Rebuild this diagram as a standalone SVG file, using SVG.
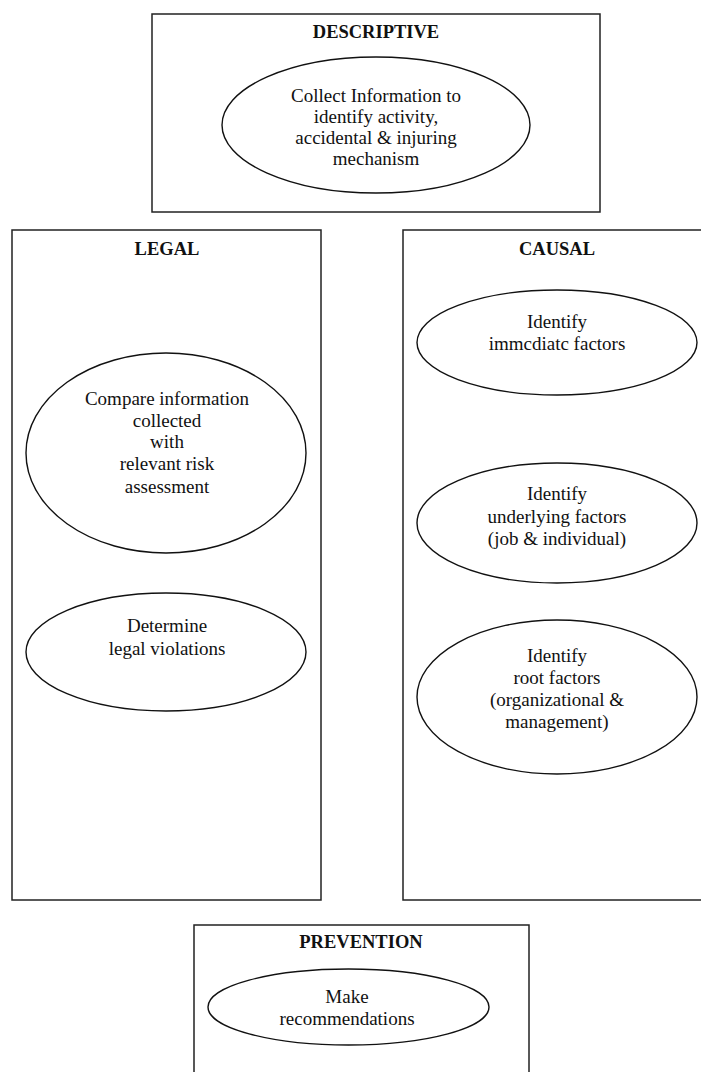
<svg xmlns="http://www.w3.org/2000/svg" width="701" height="1072" viewBox="0 0 701 1072">
<style>
.box{fill:none;stroke:#222;stroke-width:1.5}
.ell{fill:#fff;stroke:#111;stroke-width:1.4}
.t{font-family:"Liberation Serif","Times New Roman",serif;font-size:19px;fill:#111;text-anchor:middle}
.h{font-family:"Liberation Serif","Times New Roman",serif;font-size:18.5px;font-weight:bold;fill:#111;text-anchor:middle}
</style>
<rect width="701" height="1072" fill="#fff"/>
<g id="descriptive">
<rect class="box" x="152" y="14" width="448" height="198"/>
<text class="h" x="376" y="38">DESCRIPTIVE</text>
<ellipse class="ell" cx="376" cy="125" rx="154" ry="68"/>
<text class="t" x="376" y="102">Collect Information to</text>
<text class="t" x="376" y="123">identify activity,</text>
<text class="t" x="376" y="144">accidental &amp; injuring</text>
<text class="t" x="376" y="165">mechanism</text>
</g>
<g id="legal">
<rect class="box" x="12" y="230" width="309" height="670"/>
<text class="h" x="167" y="255">LEGAL</text>
<ellipse class="ell" cx="166" cy="453" rx="140" ry="100"/>
<text class="t" x="167" y="405">Compare information</text>
<text class="t" x="167" y="427">collected</text>
<text class="t" x="167" y="448">with</text>
<text class="t" x="167" y="470">relevant risk</text>
<text class="t" x="167" y="493">assessment</text>
<ellipse class="ell" cx="166" cy="652" rx="140" ry="59"/>
<text class="t" x="167" y="632">Determine</text>
<text class="t" x="167" y="655">legal violations</text>
</g>
<g id="causal">
<rect class="box" x="403" y="230" width="310" height="670"/>
<text class="h" x="557" y="255">CAUSAL</text>
<ellipse class="ell" cx="557" cy="342.5" rx="140" ry="52.5"/>
<text class="t" x="557" y="328">Identify</text>
<text class="t" x="557" y="350">immcdiatc factors</text>
<ellipse class="ell" cx="557" cy="523" rx="140" ry="60"/>
<text class="t" x="557" y="500">Identify</text>
<text class="t" x="557" y="523">underlying factors</text>
<text class="t" x="557" y="545">(job &amp; individual)</text>
<ellipse class="ell" cx="557" cy="697" rx="140" ry="77"/>
<text class="t" x="557" y="662">Identify</text>
<text class="t" x="557" y="684">root factors</text>
<text class="t" x="557" y="706">(organizational &amp;</text>
<text class="t" x="557" y="728">management)</text>
</g>
<g id="prevention">
<rect class="box" x="194" y="925" width="335" height="160"/>
<text class="h" x="361" y="948">PREVENTION</text>
<ellipse class="ell" cx="348.5" cy="1007" rx="140.5" ry="38"/>
<text class="t" x="347" y="1003">Make</text>
<text class="t" x="347" y="1025">recommendations</text>
</g>
<g id="connectors"></g>
</svg>
